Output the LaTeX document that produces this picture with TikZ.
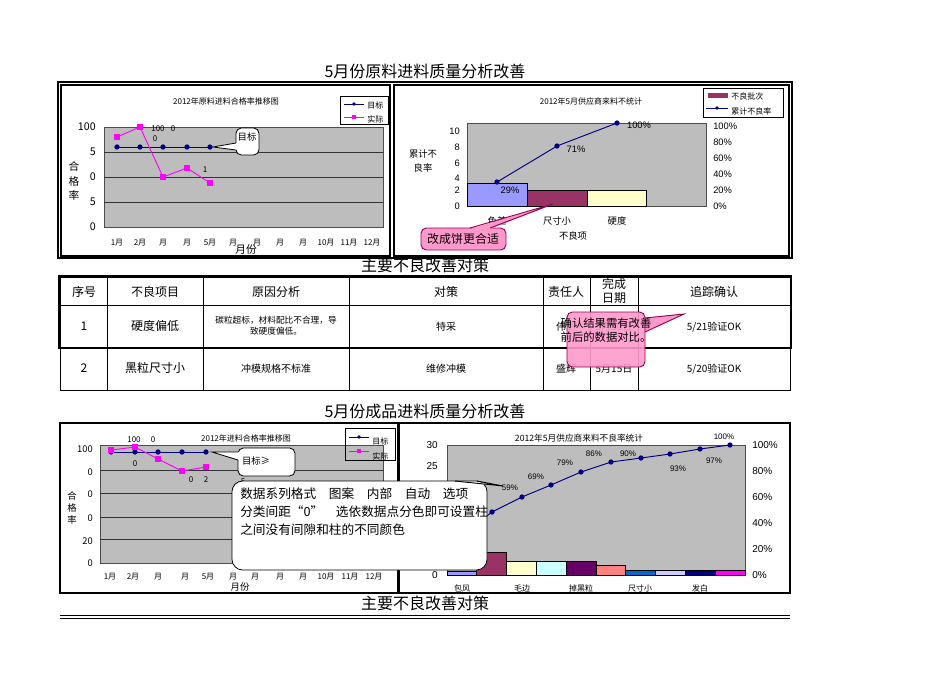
\documentclass[tikz,border=0pt]{standalone}
\usepackage{fontspec}
\setmainfont{Noto Sans CJK SC}
\setsansfont{Liberation Sans}
\definecolor{navy}{RGB}{0,0,128}
\definecolor{mag}{RGB}{255,0,255}
\definecolor{pinkf}{RGB}{255,153,204}
\definecolor{pinkd}{RGB}{150,0,80}
\definecolor{bblue}{RGB}{153,153,255}
\definecolor{bplum}{RGB}{153,51,102}
\definecolor{bivory}{RGB}{255,255,204}
\begin{document}
\begin{tikzpicture}[x=0.75pt,y=-0.75pt,
 t/.style={font=\fontsize{#1}{#1}\selectfont,inner sep=0pt},
 t/.default=6,
 ar/.style={font=\sffamily\fontsize{#1}{#1}\selectfont,inner sep=0pt},
 ar/.default=7,
 frame/.style={draw=black,line width=0.8pt},
 plot/.style={fill=black!26,draw=black!70,line width=0.6pt},
 grid/.style={draw=black!80,line width=0.5pt},
 tgt/.style={draw=navy,line width=0.7pt},
 act/.style={draw=mag,line width=0.7pt},
 dot/.style={circle,fill=navy,inner sep=1.4pt},
 sq/.style={rectangle,fill=mag,inner sep=2.4pt},
 call/.style={draw=black,fill=white,rounded corners=4pt,line width=0.6pt},
 pcall/.style={draw=pinkd,fill=pinkf,rounded corners=4pt,line width=0.7pt},
 bar/.style={draw=black,line width=0.5pt}]
\useasboundingbox (0,0) rectangle (950,672);
\fill[white] (0,0) rectangle (950,672);
% titles
\node[t=12] (h1) at (425,71) {5月份原料进料质量分析改善};
% top frames
\draw[frame] (58,82) rectangle (792,258);
\draw[frame] (61,85) rectangle (390,256);
\draw[frame] (394,85) rectangle (789,256);
% left chart
\node[t=6] (lt) at (226,101) {2012年原料进料合格率推移图};
\draw[plot] (104,127) rectangle (383,227);
\foreach \y in {152,177,202} \draw[grid] (104,\y)--(383,\y);
\foreach \v/\y in {100/127,5/152,0/177,5/202,0/227} \node[t=8,anchor=east] at (96,\y) {\v};
\node[t=8,align=center] (lyl) at (74,181) {合\\[3pt]格\\[3pt]率};
\foreach \m/\x in {1月/117,2月/140,月/163,月/187,5月/210,月/233,月/257,月/280,月/303,10月/326,11月/349,12月/372} \node[t=6] at (\x,243) {\m};
\node[t=8] (lxl) at (246,249) {月份};
\draw[tgt] (117,147)--(210,147);
\foreach \x in {117,140,163,187,210} \node[dot] at (\x,147) {};
\draw[act] (117,137)--(140,127)--(163,177)--(187,168)--(210,183);
\foreach \x/\y in {117/137,140/127,163/177,187/168,210/183} \node[sq] at (\x,\y) {};
\node[t=6] at (158,129) {100};\node[t=6] at (173,129) {0};\node[t=6] at (155,139) {0};\node[t=6] at (205,170) {1};
\draw[call] (236,128) rectangle (259,155);
\fill[white] (237,143)--(213,147)--(237,150)--cycle;
\draw[line width=0.6pt] (236,143)--(213,147)--(236,150);
\node[t=7] (cb1) at (247,137) {目标};
\draw[line width=0.6pt] (340,96) rectangle (388,124);
\draw[tgt] (344,104)--(364,104); \node[dot,inner sep=1pt] at (354,104) {};
\node[t=6,anchor=west] at (367,105) {目标};
\draw[act] (344,117)--(364,117); \node[sq,inner sep=1.8pt] at (354,117) {};
\node[t=6,anchor=west] at (367,119) {实际};
% right chart
\node[t=6] (rt) at (591,101) {2012年5月供应商来料不统计};
\draw[plot] (467,123) rectangle (706,206);
\foreach \v/\y in {10/131,8/147,6/163,4/178,2/190,0/206} \node[ar=7,anchor=east] at (460,\y) {\v};
\foreach \v/\y in {100\%/126,80\%/142,60\%/158,40\%/174,20\%/190,0\%/206} \node[ar=7,anchor=west] at (713,\y) {\v};
\node[t=7,align=center] at (423,161) {累计不\\[3pt]良率};
\fill[bblue] (467,183) rectangle (527,206); \draw[bar] (467,183) rectangle (527,206);
\fill[bplum] (527,190) rectangle (587,206); \draw[bar] (527,190) rectangle (587,206);
\fill[bivory] (587,190) rectangle (646,206); \draw[bar] (587,190) rectangle (646,206);
\draw[tgt] (497,182)--(557,146)--(617,123);
\foreach \x/\y in {497/182,557/146,617/123} \node[dot] at (\x,\y) {};
\node[ar=7] at (510,190) {29\%};\node[ar=7] at (576,149) {71\%};\node[ar=7] at (639,125) {100\%};
\node[t=7] at (497,221) {色差};\node[t=7] at (557,221) {尺寸小};\node[t=7] at (617,221) {硬度};
\node[t=7] at (573,236) {不良项};
\draw[line width=0.6pt] (703,88) rectangle (783,117);
\fill[bplum] (708,93) rectangle (728,98);
\node[t=6,anchor=west] at (731,96) {不良批次};
\draw[tgt] (706,108)--(728,108); \node[dot,inner sep=1pt] at (717,108) {};
\node[t=6,anchor=west] at (731,111) {累计不良率};
\draw[pcall] (421,228) rectangle (506,250);
\fill[pinkf] (470,229)--(553,204)--(490,229)--cycle;
\draw[pinkd,line width=0.7pt] (470,228)--(553,204)--(490,228);
\node[t=9] (pc1) at (463,239) {改成饼更合适};
\node[t=12] (h2) at (425,265) {主要不良改善对策};
% table
\draw[line width=0.6pt] (60,277) rectangle (790,390);
\draw[line width=1.5pt] (59,276) rectangle (791,348);
\draw[line width=0.6pt] (60,305)--(790,305);
\foreach \x in {107,203,349,543,590,638} \draw[line width=0.6pt] (\x,277)--(\x,390);
\foreach \tx/\x in {序号/84,不良项目/155,原因分析/276,对策/446,责任人/566,追踪确认/714} \node[t=9] at (\x,292) {\tx};
\node[t=9,align=center] at (614,291) {完成\\[2pt]日期};
\node[t=9] at (84,326) {1};\node[t=9] at (155,326) {硬度偏低};
\node[t=6.5,align=center] at (276,326) {碳粒超标，材料配比不合理，导\\[2pt]致硬度偏低。};
\node[t=7.5] at (446,327) {特采};\node[t=7.5] at (566,327) {伟剑};\node[t=7.5] at (614,327) {5月30日};
\node[t=7.5] at (714,327) {5/21验证OK};
\node[t=9] at (84,368) {2};\node[t=9] at (155,368) {黑粒尺寸小};
\node[t=7.5] at (276,369) {冲模规格不标准};\node[t=7.5] at (446,369) {维修冲模};
\node[t=7.5] at (566,369) {盛辉};\node[t=7.5] at (614,369) {5月15日};\node[t=7.5] at (714,369) {5/20验证OK};
\fill[pinkf,opacity=0.9,rounded corners=5pt] (567,312) rectangle (645,367);
\fill[pinkf] (644,318)--(684,314)--(644,332)--cycle;
\draw[draw=pinkd,rounded corners=4pt,line width=0.7pt] (567,312) rectangle (645,367);
\draw[pinkd,line width=0.7pt] (645,318)--(684,314)--(645,332);
\node[t=8.5,align=left] (pc2) at (606,330) {确认结果需有改善\\[2pt]前后的数据对比。};
% second section
\node[t=12] (h3) at (425,411) {5月份成品进料质量分析改善};
\draw[frame] (60,423) rectangle (398,593);
\draw[frame] (399,423) rectangle (790,593);
\node[t=6] (lt2) at (246,438) {2012年进料合格率推移图};
\draw[plot] (100,445) rectangle (383,563);
\foreach \y in {470,493,517,539} \draw[grid] (100,\y)--(383,\y);
\foreach \v/\y in {100/449,0/472,0/494,0/518,20/541,0/563} \node[t=7,anchor=east] at (93,\y) {\v};
\node[t=7,align=center] at (72,508) {合\\[2pt]格\\[2pt]率};
\foreach \m/\x in {1月/110,2月/133,月/158,月/185,5月/208,月/233,月/255,月/280,月/303,10月/326,11月/350,12月/374} \node[t=6] at (\x,577) {\m};
\node[t=7] at (240,587) {月份};
\draw[tgt] (111,452)--(206,452);
\foreach \x in {111,135,158,182,206} \node[dot] at (\x,452) {};
\draw[act] (111,450)--(135,447)--(158,459)--(182,471)--(206,467);
\foreach \x/\y in {111/450,135/447,158/459,182/471,206/467} \node[sq] at (\x,\y) {};
\node[t=6] at (134,440) {100};\node[t=6] at (153,440) {0};\node[t=6] at (135,464) {0};\node[t=6] at (191,480) {0};\node[t=6] at (206,480) {2};
\draw[line width=0.6pt] (345,428) rectangle (395,460);
\draw[tgt] (349,437)--(369,437); \node[dot,inner sep=1pt] at (359,437) {};
\node[t=6,anchor=west] at (372,441) {目标};
\draw[act] (349,451)--(369,451); \node[sq,inner sep=1.8pt] at (359,451) {};
\node[t=6,anchor=west] at (372,456) {实际};
% right chart 2
\node[t=6.5] (rt2) at (579,438) {2012年5月供应商来料不良率统计};
\draw[plot] (447,445) rectangle (745,575);
\foreach \v/\y in {30/445,25/466,20/488,15/510,10/531,5/553,0/575} \node[ar=7.5,anchor=east] at (438,\y) {\v};
\foreach \v/\y in {100\%/445,80\%/471,60\%/497,40\%/523,20\%/549,0\%/575} \node[ar=7.5,anchor=west] at (752,\y) {\v};
\foreach \i/\top/\r/\g/\b in {0/571/153/153/255,1/552/153/51/102,2/561/255/255/204,3/561/204/255/255,4/561/102/0/102,5/565/255/128/128,6/570/0/102/204,7/570/204/204/255,8/570/0/0/128,9/570/255/0/255}{
  \definecolor{bc}{RGB}{\r,\g,\b}
  \fill[bc] ({447+\i*29.8},\top) rectangle ({447+(\i+1)*29.8},575);
  \draw[bar] ({447+\i*29.8},\top) rectangle ({447+(\i+1)*29.8},575);}
\draw[tgt] (462,535)--(492,512)--(522,497)--(551,485)--(581,472)--(611,462)--(641,458)--(670,454)--(700,449)--(730,445);
\foreach \x/\y in {462/535,492/512,522/497,551/485,581/472,611/462,641/458,670/454,700/449,730/445} \node[dot] at (\x,\y) {};
\foreach \x/\y/\l in {458/519/31,478/503/48,510/488/59,536/477/69,565/463/79,594/454/86,628/454/90,678/469/93,714/461/97,724/437/100} \node[ar=6] at (\x,\y) {\l\%};
\foreach \x/\l in {462/包风,522/毛边,581/掉黑粒,640/尺寸小,700/发白} \node[t=6] at (\x,588) {\l};
% callouts bottom
\draw[call] (238,448) rectangle (295,476);
\fill[white] (239,452)--(212,452)--(239,460)--cycle;
\draw[line width=0.6pt] (238,452)--(212,452)--(238,460);
\node[t=7] (cb2) at (256,461) {目标≥};
\node[t=6] at (243,482) {5};
\draw[call,rounded corners=8pt] (232,481) rectangle (487,570);
\fill[white] (455,482)--(503,486)--(477,482)--cycle;
\draw[line width=0.7pt] (455,481)--(503,486)--(477,481);
\node[t=9.5,align=left,anchor=north west] (bc) at (240,488) {数据系列格式　图案　内部　自动　选项\\[4pt]分类间距“0”　选依数据点分色即可设置柱\\[4pt]之间没有间隙和柱的不同颜色};
\node[t=12] (h4) at (425,603) {主要不良改善对策};
\draw[line width=0.5pt] (60,615)--(790,615);
\draw[line width=0.5pt] (60,618)--(790,618);
\end{tikzpicture}
\end{document}
